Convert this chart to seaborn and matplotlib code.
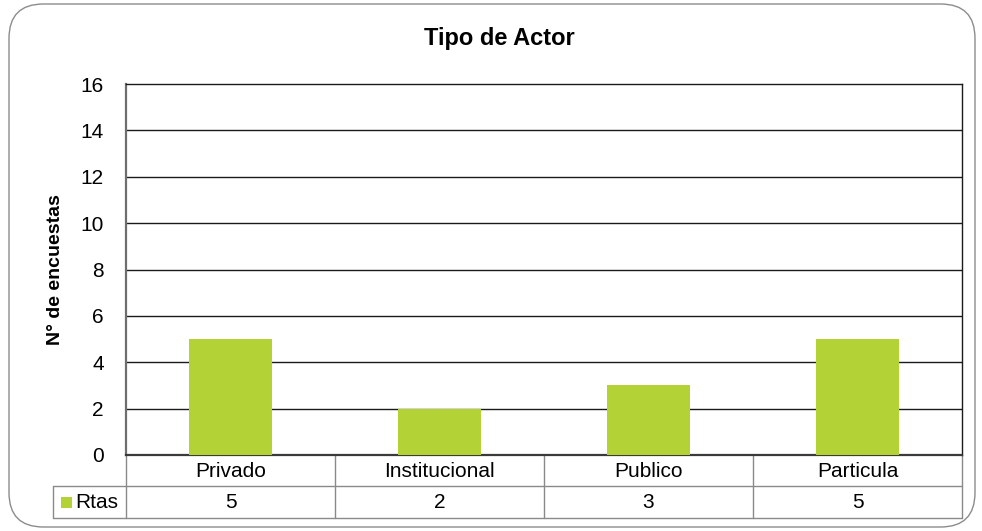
import matplotlib
matplotlib.use("Agg")
import matplotlib.pyplot as plt
import seaborn as sns
import pandas as pd
from matplotlib.patches import FancyBboxPatch, Rectangle
from matplotlib.lines import Line2D

categories = ["Privado", "Institucional", "Publico", "Particula"]
values = [5, 2, 3, 5]
series_name = "Rtas"
title = "Tipo de Actor"
ylabel = "N° de encuestas"
yticks = [0, 2, 4, 6, 8, 10, 12, 14, 16]

sns.set_theme(style="white")
plt.rcParams['font.family'] = ['Liberation Sans', 'DejaVu Sans']
plt.rcParams['text.color'] = 'black'
plt.rcParams['ytick.color'] = 'black'
plt.rcParams['xtick.color'] = 'black'

W, H = 982, 531
fig = plt.figure(figsize=(W / 100, H / 100), dpi=100)
fig.patch.set_facecolor("white")

def fx(px):
    return px / W

def fy(py):
    return 1 - py / H

# rounded outer border
border = FancyBboxPatch((fx(9), fy(527)), fx(966), fy(4) - fy(527),
                        boxstyle="round,pad=0,rounding_size=0.035",
                        transform=fig.transFigure, facecolor="none",
                        edgecolor="#8c8c8c", linewidth=1.0, zorder=0,
                        mutation_aspect=W / H)
fig.patches.append(border)

L, R, T, B = 126, 962, 84, 455
ax = fig.add_axes([fx(L), fy(B), fx(R) - fx(L), fy(T) - fy(B)])
ax.set_zorder(2)
ax.set_facecolor("none")

df = pd.DataFrame({"cat": categories, "val": values})
sns.barplot(data=df, x="cat", y="val", color="#b2d235", width=0.4,
            saturation=1, ax=ax, zorder=3, edgecolor="none")

ax.set_ylim(0, 16)
ax.set_xlim(-0.5, len(categories) - 0.5)
ax.set_yticks(yticks)
ax.set_yticklabels([str(t) for t in yticks], fontsize=15, color="black")
ax.set_xticks([])
ax.set_xlabel("")
ax.set_ylabel("")
ax.tick_params(axis="y", length=0, pad=16)
for t in yticks[1:-1]:
    ax.axhline(t, color="#1a1a1a", linewidth=1.0, zorder=1)
for s in ax.spines.values():
    s.set_visible(True)
    s.set_color("#1a1a1a")
    s.set_linewidth(1.0)
ax.spines["left"].set_color("#6e6e6e")
ax.spines["left"].set_linewidth(1.6)
ax.spines["bottom"].set_color("#3a3a3a")
ax.spines["bottom"].set_linewidth(1.6)

fig.text(fx(499), fy(38), title, ha="center", va="center",
         fontsize=17, fontweight="bold", color="black")
fig.text(fx(56), fy(270), ylabel, ha="center", va="center", rotation=90,
         fontsize=14, fontweight="bold", color="black")

# data table
tc = "#8a8a8a"
row1, row2 = 486, 518
def hline(x0, x1, y):
    fig.add_artist(Line2D([fx(x0), fx(x1)], [fy(y), fy(y)], color=tc, lw=1.0,
                          transform=fig.transFigure))
def vline(x, y0, y1):
    fig.add_artist(Line2D([fx(x), fx(x)], [fy(y0), fy(y1)], color=tc, lw=1.0,
                          transform=fig.transFigure))

hline(53, R, row1)
hline(53, R, row2)
cw = (R - L) / len(categories)
for i in range(len(categories) + 1):
    vline(L + i * cw, B, row2)
vline(53, row1, row2)

for i, (c, v) in enumerate(zip(categories, values)):
    cx = L + (i + 0.5) * cw
    fig.text(fx(cx), fy((B + row1) / 2 + 1), c, ha="center", va="center",
             fontsize=15, color="black")
    fig.text(fx(cx), fy((row1 + row2) / 2 + 1), str(v), ha="center", va="center",
             fontsize=15, color="black")

fig.add_artist(Rectangle((fx(61), fy(508)), fx(72) - fx(61), fy(497) - fy(508),
                         transform=fig.transFigure, facecolor="#b2d235",
                         edgecolor="none"))
fig.text(fx(75), fy((row1 + row2) / 2 + 1), series_name, ha="left", va="center",
         fontsize=15, color="black")

fig.savefig("out.png", dpi=100)
